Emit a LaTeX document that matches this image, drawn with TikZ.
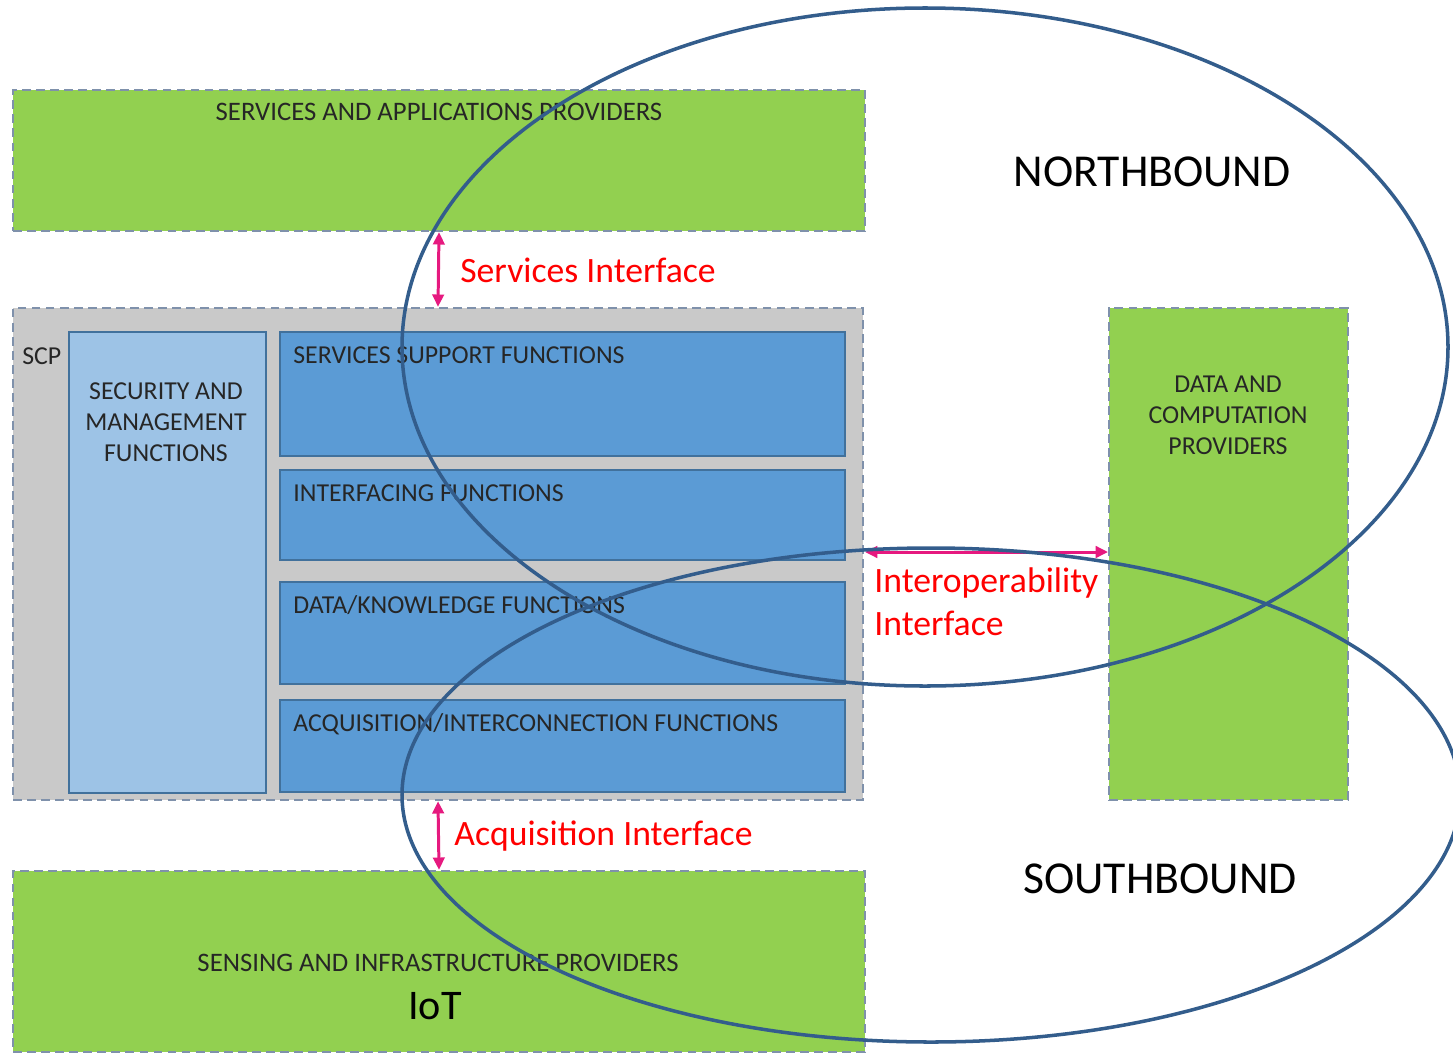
\documentclass[tikz,border=0pt]{standalone}
\usepackage{fontspec}
\setmainfont{Carlito}
\usetikzlibrary{arrows.meta,fit,positioning}
\definecolor{provgreen}{HTML}{92D050}
\definecolor{dashgrey}{HTML}{7F91AB}
\definecolor{scpgrey}{HTML}{C9C9C9}
\definecolor{funcblue}{HTML}{5B9BD5}
\definecolor{secblue}{HTML}{9DC3E6}
\definecolor{edgeblue}{HTML}{41719C}
\definecolor{ringblue}{HTML}{335D8C}
\definecolor{ifmagenta}{HTML}{E6197F}
\definecolor{ifred}{HTML}{FF0000}

\begin{document}
\begin{tikzpicture}[x=0.02cm,y=-0.02cm,>={Triangle[length=7pt,width=6.5pt]}]
	\tikzstyle{prov}=[draw=dashgrey, fill=provgreen, line width=1.35pt, dash pattern=on 5pt off 3pt, inner sep=0pt]
	\tikzstyle{scpbox}=[draw=dashgrey, fill=scpgrey, line width=1.35pt, dash pattern=on 5pt off 3pt, inner sep=0pt]
	\tikzstyle{func}=[draw=edgeblue, fill=funcblue, line width=1pt, inner sep=0pt]
	\tikzstyle{secbox}=[draw=edgeblue, fill=secblue, line width=0.8pt, inner sep=0pt]
	\tikzstyle{boxtxt}=[font=\fontsize{14.7}{17.6}\selectfont, inner sep=0pt, align=center, text=black!85]
	\tikzstyle{provtxt}=[font=\fontsize{15.2}{18}\selectfont, inner sep=0pt, text=black!85]
	\tikzstyle{iftxt}=[font=\fontsize{20.3}{24.5}\selectfont, text=ifred, inner sep=0pt, align=left]
	\tikzstyle{iface}=[<->, draw=ifmagenta, line width=1.7pt]
	\tikzstyle{ring}=[draw=ringblue, line width=2pt]
	\tikzstyle{bound}=[font=\fontsize{26}{30}\selectfont, inner sep=0pt]

	\clip (0,0) rectangle (1453,1055);
	\fill[white] (0,0) rectangle (1453,1055);

	% providers
	\node[prov, fit={(13,90) (865,231)}] (sap) {};
	\node[provtxt] (sapt) at (439,112) {SERVICES AND APPLICATIONS PROVIDERS};
	\node[prov, fit={(13,871) (865,1052)}] (sip) {};
	\node[provtxt] (sipt) at (438,963) {SENSING AND INFRASTRUCTURE PROVIDERS};
	\node[font=\fontsize{24}{28}\selectfont, inner sep=0pt] (iot) at (435,1006) {IoT};
	\node[prov, fit={(1109,308) (1348,800)}] (dcp) {};
	\node[boxtxt] (dcpt) at (1228,415) {DATA AND\\COMPUTATION\\PROVIDERS};

	% scp block
	\node[scpbox, fit={(13,308) (863,800)}] (scp) {};
	\node[boxtxt, anchor=west] (scpt) at (22,356) {SCP};
	\node[secbox, fit={(69,332) (266,793)}] (smf) {};
	\node[boxtxt] (smft) at (166,422) {SECURITY  AND\\MANAGEMENT\\FUNCTIONS};
	\node[func, fit={(280,332) (845,456)}] (ssf) {};
	\node[func, fit={(280,470) (845,560)}] (inf) {};
	\node[func, fit={(280,582) (845,684)}] (dkf) {};
	\node[func, fit={(280,700) (845,792)}] (aif) {};
	\node[boxtxt, anchor=west] (ssft) at (293,355) {SERVICES SUPPORT FUNCTIONS};
	\node[boxtxt, anchor=west] (inft) at (293,493) {INTERFACING FUNCTIONS};
	\node[boxtxt, anchor=west] (dkft) at (293,605) {DATA/KNOWLEDGE FUNCTIONS};
	\node[boxtxt, anchor=west] (aift) at (293,724) {ACQUISITION/INTERCONNECTION FUNCTIONS};

	% interfaces
	\draw[iface] (sap.south) -- (scp.north);
	\node[iftxt, anchor=west] (sif) at (460,270) {Services Interface};
	\draw[iface] (scp.south) -- (sip.north);
	\node[iftxt, anchor=west] (aqf) at (454,836) {Acquisition Interface};
	\coordinate (iol) at (865,552);
	\coordinate (ior) at (1108,552);
	\draw[iface] (iol) -- (ior);
	\node[iftxt, anchor=north west] (iof) at (874,567) {Interoperability\\Interface};

	% bounds
	\draw[ring] (925,347) ellipse [x radius=523, y radius=339];
	\draw[ring] (931,795) ellipse [x radius=529, y radius=247];
	\node[bound] (nb) at (1152,172) {NORTHBOUND};
	\node[bound] (sb) at (1160,879) {SOUTHBOUND};
\end{tikzpicture}
\end{document}
